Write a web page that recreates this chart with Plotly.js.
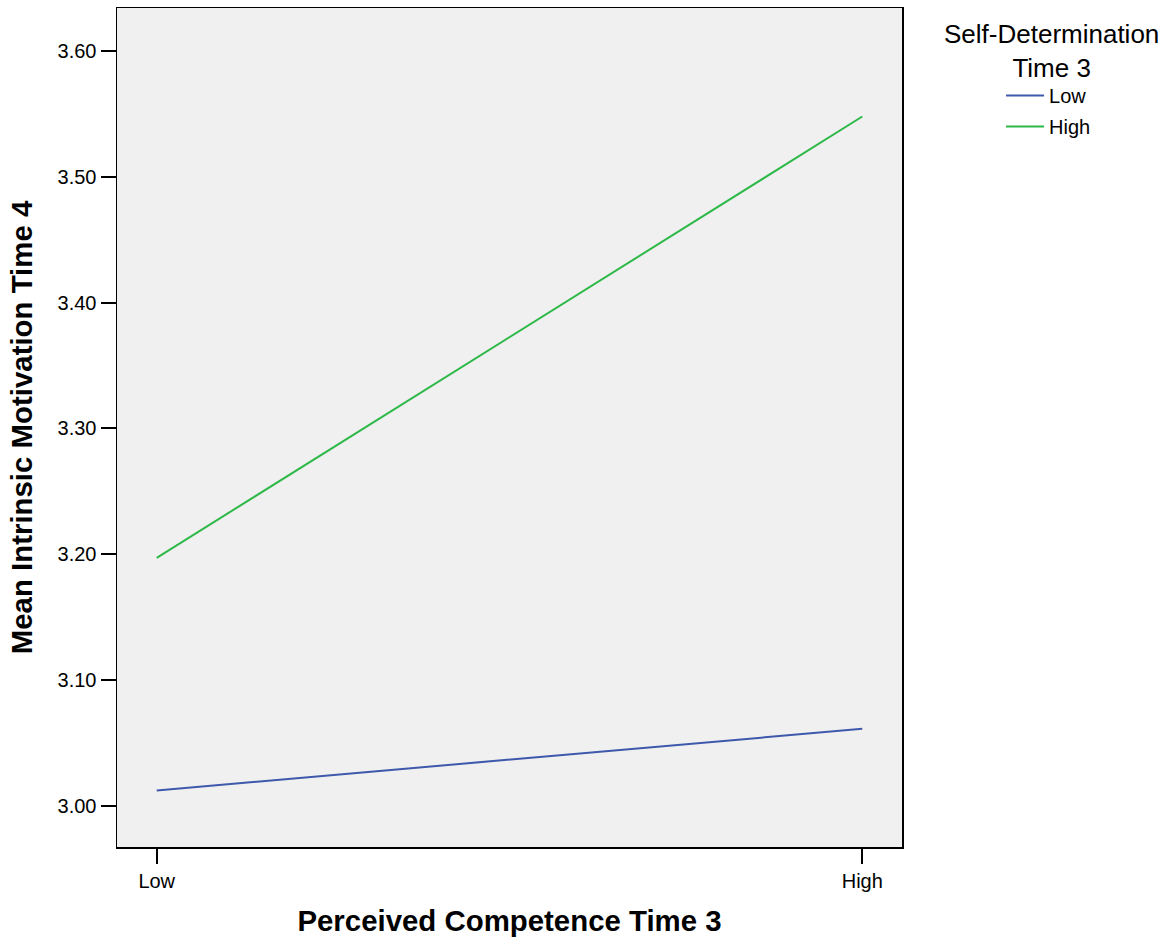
<!DOCTYPE html>
<html>
<head>
<meta charset="utf-8">
<script src="https://cdn.plot.ly/plotly-3.0.1.min.js"></script>
<style>html,body{margin:0;padding:0;background:#fff;}#chart{width:1175px;height:941px;}</style>
</head>
<body>
<div id="chart"></div>
<script>
const categories = ["Low", "High"];
const seriesNames = ["Low", "High"];
const lowSD = [3.012, 3.061];
const highSD = [3.197, 3.548];
const yTicks = [3.00, 3.10, 3.20, 3.30, 3.40, 3.50, 3.60];
const yTickLabels = ["3.00", "3.10", "3.20", "3.30", "3.40", "3.50", "3.60"];

const FONT = "Liberation Sans, Arial, sans-serif";

const traces = [
  {x: [0, 1], y: lowSD, mode: "lines", name: seriesNames[0], legendgroup: "a",
   line: {color: "#3E58AC", width: 2}},
  {x: [0, 1], y: highSD, mode: "lines", name: seriesNames[1], legendgroup: "b",
   line: {color: "#2EB848", width: 2}}
];

const layout = {
  width: 1175, height: 941,
  margin: {l: 117, r: 273, t: 8, b: 94},
  paper_bgcolor: "#ffffff",
  plot_bgcolor: "#F0F0F0",
  font: {family: FONT, color: "#000", size: 20},
  showlegend: true,
  legend: {
    x: 1.1262, xanchor: "left", y: 0.919, yanchor: "top",
    font: {family: FONT, size: 20, color: "#000"},
    itemwidth: 38, tracegroupgap: 2, bgcolor: "rgba(0,0,0,0)", borderwidth: 0
  },
  xaxis: {
    range: [-0.0563, 1.0563],
    tickmode: "array", tickvals: [0, 1], ticktext: categories,
    ticks: "outside", ticklen: 15, tickwidth: 2, tickcolor: "#000",
    showline: true, linecolor: "#000", linewidth: 1.5, mirror: true,
    showgrid: false, zeroline: false, automargin: false,
    tickfont: {family: FONT, size: 20},
    title: {text: "<b>Perceived Competence Time 3</b>", font: {family: FONT, size: 29.4}, standoff: 20}
  },
  yaxis: {
    range: [2.967, 3.6343],
    tickmode: "array", tickvals: yTicks, ticktext: yTickLabels,
    ticks: "outside", ticklen: 15, tickwidth: 2, tickcolor: "#000",
    showline: true, linecolor: "#000", linewidth: 1.5, mirror: true,
    showgrid: false, zeroline: false, automargin: false,
    tickfont: {family: FONT, size: 20},
    title: {text: "<b>Mean Intrinsic Motivation Time 4</b>", font: {family: FONT, size: 29.4}, standoff: 16}
  },
  annotations: [{
    xref: "paper", yref: "paper", x: 1.1904, y: 0.9487,
    xanchor: "center", yanchor: "middle", showarrow: false,
    text: "Self-Determination<br>Time 3", align: "center",
    font: {family: FONT, size: 26, color: "#000"}
  }]
};

Plotly.newPlot("chart", traces, layout, {displayModeBar: false, staticPlot: true});
</script>
</body>
</html>
